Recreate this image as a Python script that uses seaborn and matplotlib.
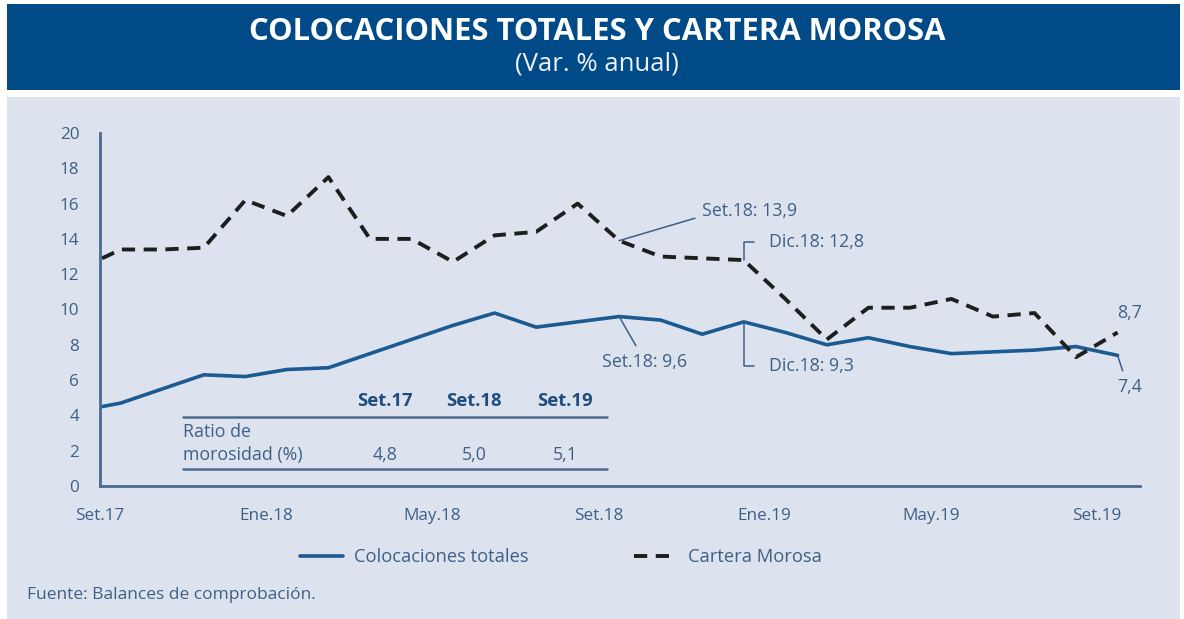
import numpy as np
import pandas as pd
import matplotlib.pyplot as plt
import seaborn as sns
from matplotlib.patches import Rectangle
from matplotlib.lines import Line2D

# %%
# datos mensuales (Set.17 - Set.19), var. % anual
meses = ['Set.17', 'Oct.17', 'Nov.17', 'Dic.17', 'Ene.18', 'Feb.18', 'Mar.18', 'Abr.18',
         'May.18', 'Jun.18', 'Jul.18', 'Ago.18', 'Set.18', 'Oct.18', 'Nov.18', 'Dic.18',
         'Ene.19', 'Feb.19', 'Mar.19', 'Abr.19', 'May.19', 'Jun.19', 'Jul.19', 'Ago.19', 'Set.19']
colocaciones = [4.7, 5.5, 6.3, 6.2, 6.6, 6.7, 7.5, 8.3, 9.1, 9.8, 9.0, 9.3, 9.6,
                9.4, 8.6, 9.3, 8.7, 8.0, 8.4, 7.9, 7.5, 7.6, 7.7, 7.9, 7.4]
morosa = [13.4, 13.4, 13.5, 16.2, 15.3, 17.5, 14.0, 14.0, 12.7, 14.2, 14.4, 16.0, 13.9,
          13.0, 12.9, 12.8, 10.6, 8.3, 10.1, 10.1, 10.6, 9.6, 9.8, 7.3, 8.7]
# the lines start right at the y axis
inicio_x = -0.45
inicio_colocaciones = 4.5
inicio_morosa = 12.9

tick_labels = ['Set.17', 'Ene.18', 'May.18', 'Set.18', 'Ene.19', 'May.19', 'Set.19']

# tabla de ratio de morosidad
tabla_cols = ['Set.17', 'Set.18', 'Set.19']
tabla_vals = ['4,8', '5,0', '5,1']

# %%
x = [inicio_x] + list(range(len(meses)))
df = pd.DataFrame({'x': x,
                   'Colocaciones totales': [inicio_colocaciones] + colocaciones,
                   'Cartera Morosa': [inicio_morosa] + morosa})

sns.set_style('white')
plt.rcParams['font.family'] = ['Open Sans', 'DejaVu Sans']

W, H = 1184, 619
fig = plt.figure(figsize=(W / 100, H / 100), dpi=100)
fig.patch.set_facecolor('white')

def fx(px):
    return px / W

def fy(py):
    return 1 - py / H

# title banner and panel
fig.add_artist(Rectangle((fx(7), fy(90)), fx(1173), 86 / H, transform=fig.transFigure,
                         facecolor='#004a87', edgecolor='none', zorder=0))
fig.add_artist(Rectangle((fx(7), 0), fx(1173), fy(97), transform=fig.transFigure,
                         facecolor='#dce3ef', edgecolor='none', zorder=0))
fig.text(fx(597), fy(32), 'COLOCACIONES TOTALES Y CARTERA MOROSA', color='white',
         fontsize=22.3, fontweight='bold', ha='center', va='center')
fig.text(fx(597), fy(64), '(Var. % anual)', color='#eef2f8', fontsize=18.5, ha='center', va='center')

ax = fig.add_axes([fx(100), fy(486), fx(1040), (486 - 133) / H])
ax.set_facecolor('none')

azul = '#1c5a92'
texto = '#3f5f85'
eje = '#4a6a8f'
fs = 12.8

sns.lineplot(data=df, x='x', y='Colocaciones totales', ax=ax, color=azul, lw=2.6,
             label='Colocaciones totales')
sns.lineplot(data=df, x='x', y='Cartera Morosa', ax=ax, color='#1e1e1e', lw=2.8,
             label='Cartera Morosa')
ax.lines[1].set_linestyle((0, (3.4, 2.2)))

ax.set_xlim(-0.5, 24.54)
ax.set_ylim(0, 20)
ax.set_yticks(range(0, 21, 2))
tick_pos = [meses.index(t) - 0.5 for t in tick_labels]
ax.set_xticks(tick_pos)
ax.set_xticklabels(tick_labels)
ax.set_xlabel('')
ax.set_ylabel('')
sns.despine(ax=ax)
for s in ['left', 'bottom']:
    ax.spines[s].set_color(eje)
    ax.spines[s].set_linewidth(2)
ax.tick_params(axis='both', direction='out', colors=eje, labelcolor=texto, labelsize=12.3, width=1.6)
ax.tick_params(axis='y', length=7, pad=8)
ax.tick_params(axis='x', length=5, pad=11)

# anotaciones
ann = dict(fontsize=fs, color=texto)
lp = dict(arrowstyle='-', color=texto, lw=1.1, shrinkB=0)
i18 = meses.index('Set.18')
d18 = meses.index('Dic.18')
ax.annotate('Set.18: 13,9', xy=(i18, morosa[i18]), xytext=(14.0, 15.6), ha='left', va='center',
            arrowprops=dict(lp, relpos=(0, 0.2), shrinkA=3), **ann)
ax.annotate('Dic.18: 12,8', xy=(d18, morosa[d18]), xytext=(15.6, 13.85), ha='left', va='center',
            arrowprops=dict(lp, relpos=(0, 0.5), shrinkA=8,
                            connectionstyle='angle,angleA=0,angleB=90,rad=0'), **ann)
ax.annotate('Set.18: 9,6', xy=(i18, colocaciones[i18]), xytext=(12.6, 7.05), ha='center', va='center',
            arrowprops=dict(lp, relpos=(0.45, 1), shrinkA=3), **ann)
ax.annotate('Dic.18: 9,3', xy=(d18, colocaciones[d18]), xytext=(15.6, 6.8), ha='left', va='center',
            arrowprops=dict(lp, relpos=(0, 0.5), shrinkA=8,
                            connectionstyle='angle,angleA=0,angleB=90,rad=0'), **ann)
ax.annotate('8,7', xy=(24, morosa[-1]), xytext=(24.3, 9.8), ha='center', va='center', **ann)
ax.annotate('7,4', xy=(24, colocaciones[-1]), xytext=(24.3, 5.6), ha='center', va='center',
            arrowprops=dict(lp, relpos=(0.3, 1), shrinkA=3), **ann)

# tabla
col_x = [385, 474, 565]
for c, v, px in zip(tabla_cols, tabla_vals, col_x):
    fig.text(fx(px), fy(401), c, ha='center', va='center', fontsize=13.3, fontweight='bold', color='#1f4d7d')
    fig.text(fx(px), fy(455), v, ha='center', va='center', fontsize=fs, color=texto)
fig.text(fx(183), fy(432), 'Ratio de', ha='left', va='center', fontsize=fs, color=texto)
fig.text(fx(183), fy(455), 'morosidad (%)', ha='left', va='center', fontsize=fs, color=texto)
for py in [417, 469]:
    fig.add_artist(Line2D([fx(183), fx(607)], [fy(py), fy(py)], transform=fig.transFigure,
                          color=eje, lw=1.8))

# leyenda
handles, labels = ax.get_legend_handles_labels()
ax.get_legend().remove()
fig.legend(handles, labels, loc='center', bbox_to_anchor=(fx(561), fy(557)), ncol=2, frameon=False,
           fontsize=13.2, handlelength=2.3, columnspacing=5.7, handletextpad=0.65, labelcolor=texto)

fig.text(fx(27), fy(595), 'Fuente: Balances de comprobación.', ha='left', va='center',
         fontsize=12.5, color=texto)

fig.savefig('out.png', dpi=100)
